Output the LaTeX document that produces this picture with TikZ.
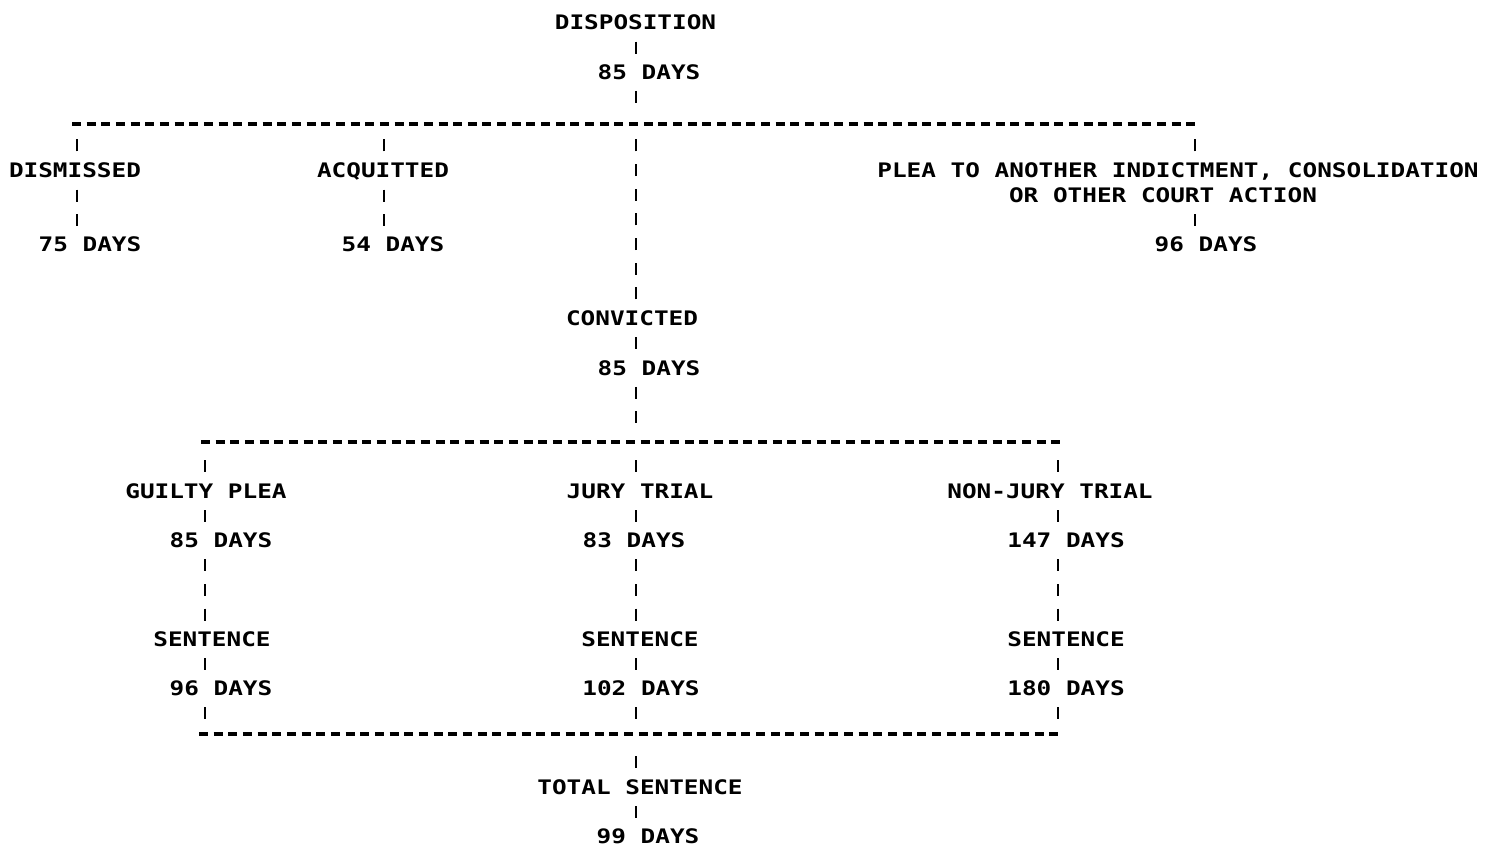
\documentclass[tikz,border=0pt]{standalone}
\usepackage{fontspec}
\newfontfamily\lpfont{DejaVu Sans Mono}[FakeStretch=1.218]
\newcommand\rowY[1]{22.5+24.66*#1}
\begin{document}
\begin{tikzpicture}[x=0.5pt,y=-0.5pt,
  txt/.style={inner sep=0pt,text height=7.29pt,text depth=0pt,font=\lpfont\bfseries\fontsize{10}{12}\selectfont},
  hline/.style={draw,line width=2pt,dash pattern=on 4.5pt off 2.83pt},
  vbar/.style={draw,line width=1.25pt,dash pattern=on 6pt off 6.33pt,dash phase=6.645pt},
  tojoin/.style={shorten >=5pt}]
\useasboundingbox[fill=white] (0,0) rectangle (1487,850);
% text nodes
\node[txt] (disp) at (635.5,\rowY{0}) {DISPOSITION};
\node[txt] (dd1) at (649,\rowY{2}) {85 DAYS};
\node[txt] (dis) at (75,\rowY{6}) {DISMISSED};
\node[txt] (acq) at (383,\rowY{6}) {ACQUITTED};
\node[txt] (plea1) at (1178,\rowY{6}) {PLEA TO ANOTHER INDICTMENT, CONSOLIDATION};
\node[txt] (plea2) at (1163,\rowY{7}) {OR OTHER COURT ACTION};
\node[txt] (d75) at (90,\rowY{9}) {75 DAYS};
\node[txt] (d54) at (393,\rowY{9}) {54 DAYS};
\node[txt] (d96a) at (1206,\rowY{9}) {96 DAYS};
\node[txt] (conv) at (632,\rowY{12}) {CONVICTED};
\node[txt] (dd2) at (649,\rowY{14}) {85 DAYS};
\node[txt] (gp) at (206,\rowY{19}) {GUILTY PLEA};
\node[txt] (jt) at (640,\rowY{19}) {JURY TRIAL};
\node[txt] (nj) at (1050,\rowY{19}) {NON-JURY TRIAL};
\node[txt] (g85) at (221,\rowY{21}) {85 DAYS};
\node[txt] (j83) at (634,\rowY{21}) {83 DAYS};
\node[txt] (n147) at (1066,\rowY{21}) {147 DAYS};
\node[txt] (gs) at (212,\rowY{25}) {SENTENCE};
\node[txt] (js) at (640,\rowY{25}) {SENTENCE};
\node[txt] (ns) at (1066,\rowY{25}) {SENTENCE};
\node[txt] (g96) at (221,\rowY{27}) {96 DAYS};
\node[txt] (j102) at (641,\rowY{27}) {102 DAYS};
\node[txt] (n180) at (1066,\rowY{27}) {180 DAYS};
\node[txt] (tot) at (640,\rowY{31}) {TOTAL SENTENCE};
\node[txt] (d99) at (648,\rowY{33}) {99 DAYS};
% junction coordinates
\coordinate (ta) at (72,124); \coordinate (tb) at (1198,124);
\coordinate (j1) at (77,124); \coordinate (j2) at (384,124);
\coordinate (j3) at (636,124); \coordinate (j4) at (1195,124);
\coordinate (ma) at (201,442); \coordinate (mb) at (1062,442);
\coordinate (j5) at (205,442); \coordinate (j6) at (636,442); \coordinate (j7) at (1058,442);
\coordinate (ba) at (199,734); \coordinate (bb) at (1062,734);
\coordinate (j8) at (205,734); \coordinate (j9) at (636,734); \coordinate (j10) at (1058,734);
% dashed rails
\draw[hline] (ta) -- (tb);
\draw[hline] (ma) -- (mb);
\draw[hline] (ba) -- (bb);
% top part
\draw[vbar] (disp.south -| j3) -- (dd1.north -| j3);
\draw[vbar,tojoin] (dd1.south -| j3) -- (j3);
\draw[vbar,tojoin] (dis.north -| j1) -- (j1);
\draw[vbar] (dis.south -| j1) -- (d75.north -| j1);
\draw[vbar,tojoin] (acq.north -| j2) -- (j2);
\draw[vbar] (acq.south -| j2) -- (d54.north -| j2);
\draw[vbar,tojoin] (plea1.north -| j4) -- (j4);
\draw[vbar] (plea2.south -| j4) -- (d96a.north -| j4);
\draw[vbar,tojoin] (conv.north -| j3) -- (j3);
\draw[vbar] (conv.south -| j3) -- (dd2.north -| j3);
\draw[vbar,tojoin] (dd2.south -| j6) -- (j6);
% three lower columns
\foreach \a/\b/\c/\d/\top/\bot in {gp/g85/gs/g96/j5/j8, jt/j83/js/j102/j6/j9, nj/n147/ns/n180/j7/j10}{
  \draw[vbar,tojoin] (\a.north -| \top) -- (\top);
  \draw[vbar] (\a.south -| \top) -- (\b.north -| \top);
  \draw[vbar] (\b.south -| \top) -- (\c.north -| \top);
  \draw[vbar] (\c.south -| \top) -- (\d.north -| \top);
  \draw[vbar,tojoin] (\d.south -| \bot) -- (\bot);
}
% bottom
\draw[vbar,tojoin] (tot.north -| j9) -- (j9);
\draw[vbar] (tot.south -| j9) -- (d99.north -| j9);
\end{tikzpicture}
\end{document}
